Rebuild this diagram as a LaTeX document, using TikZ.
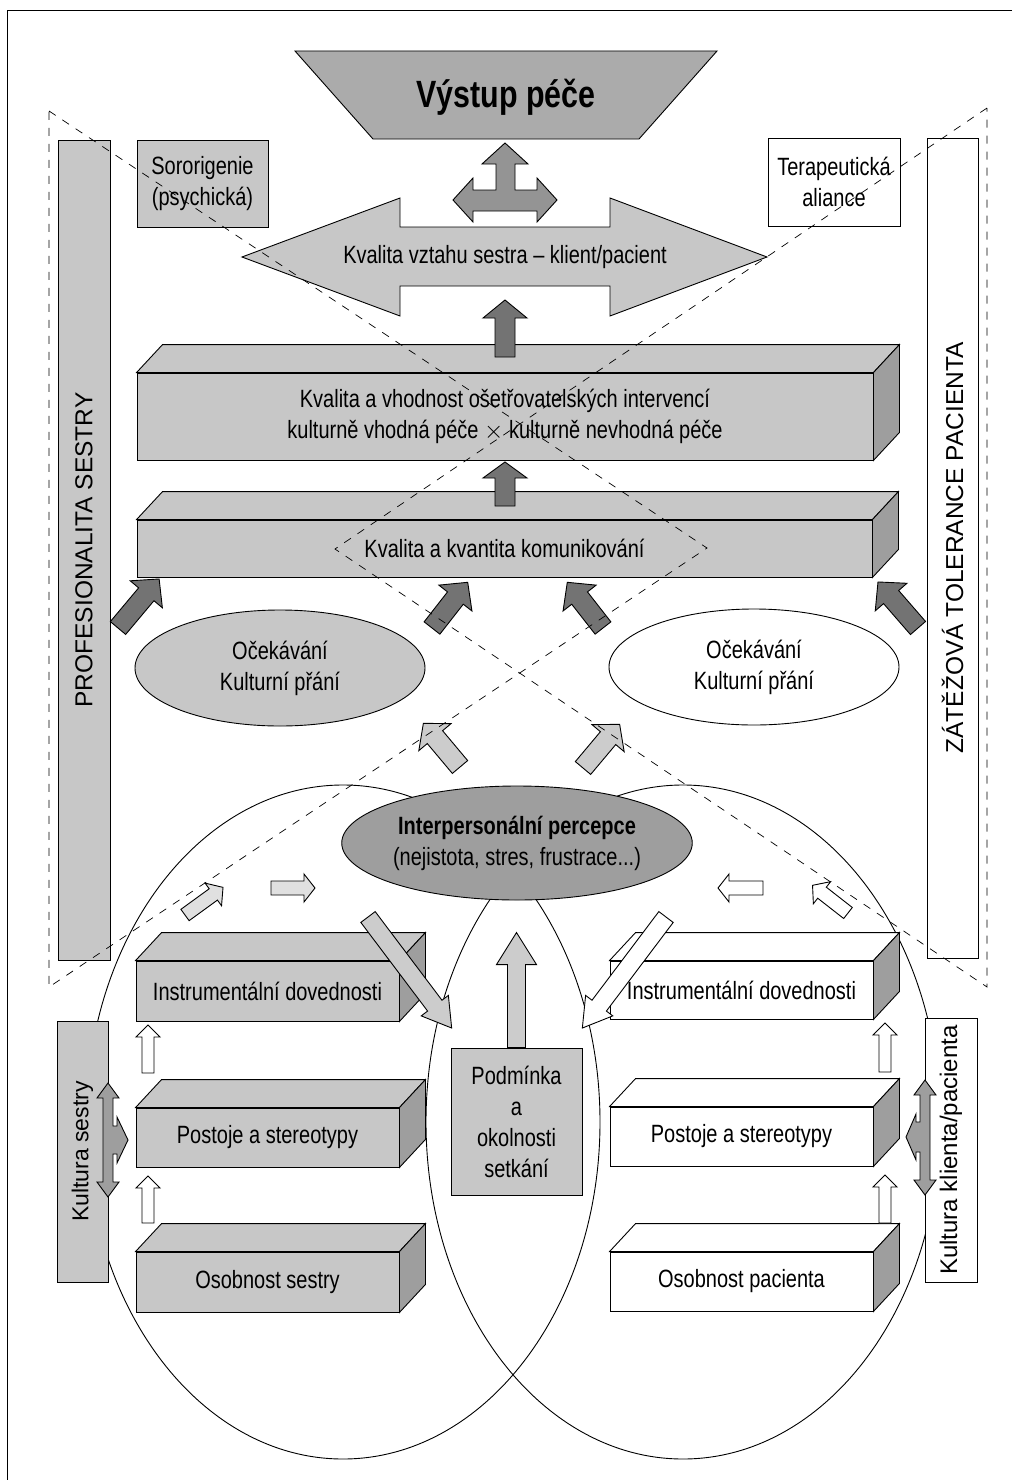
\documentclass[tikz,border=0pt]{standalone}
\usepackage{fontspec}
\setmainfont{Liberation Sans}
\newfontfamily\condfont[FakeStretch=0.8]{Liberation Sans}
\usetikzlibrary{shapes.geometric}

\colorlet{boxc}{black!22}
\colorlet{sidec}{black!38}
\colorlet{darkc}{black!55}
\colorlet{lightc}{black!20}
\colorlet{palec}{black!12}

\tikzset{
  pics/blk/.style n args={5}{code={
    \draw[#5] (0,-#2)--(#1-#4,-#2)--(#1-#4,-#3)--(#1,0)--(#1-#4,#3)--(#1-#4,#2)--(0,#2)--cycle;}},
  lbl/.style={font=\condfont\fontsize{25}{31}\selectfont, align=center},
  bar/.style={draw, rotate=90, inner sep=0, font=\fontsize{24.5}{28}\selectfont},
  dashline/.style={dash pattern=on 8pt off 8pt, line width=0.7pt}
}

\newcommand\cuboid[6]{%
  \node[draw, fill=#5, minimum width=#3, minimum height=#4, inner sep=0, lbl] (#1) at (#2) {#6};
  \draw[fill=#5] (#1.north west) -- ++(26,-28) -- ([shift={(26,-28)}]#1.north east) -- (#1.north east) -- cycle;
  \draw[fill=sidec] (#1.north east) -- ++(26,-28) -- ([shift={(26,-28)}]#1.south east) -- (#1.south east) -- cycle;
}

\begin{document}
\begin{tikzpicture}[x=1pt, y=-1pt, line width=0.9pt]
\useasboundingbox (0,0) rectangle (1016,1480);
\draw (1012,10) -- (7,10) -- (7,1480);

\draw (343,1122) ellipse [x radius=257pt, y radius=337pt];
\draw (683,1122) ellipse [x radius=257pt, y radius=337pt];

\draw[fill=black!33] (295,51) -- (717,51) -- (639,139) -- (373,139) -- cycle;
\node[font=\condfont\bfseries\fontsize{38}{40}\selectfont] (vystup) at (506,97) {Výstup péče};

\node[bar, fill=boxc, minimum width=820pt, minimum height=52pt] (profes) at (84,550) {PROFESIONALITA SESTRY};
\node[bar, fill=white, minimum width=820pt, minimum height=51pt] (zatez) at (952.5,548) {ZÁTĚŽOVÁ TOLERANCE PACIENTA};
\node[draw, fill=boxc, minimum width=131pt, minimum height=87pt, lbl] (sorori) at (202.5,183.5) {Sororigenie\\(psychická)};
\node[draw, fill=white, minimum width=132pt, minimum height=88pt, lbl] (terap) at (834,182) {Terapeutická\\aliance};

\draw[fill=black!42] (505,143) -- (528,164) -- (515,164) -- (515,190) -- (537,190) -- (537,178) -- (557,200)
  -- (537,222) -- (537,211) -- (473,211) -- (473,222) -- (453,200) -- (473,178) -- (473,190)
  -- (496,190) -- (496,164) -- (482,164) -- cycle;

\draw[fill=boxc] (242,257) -- (400,198) -- (400,227) -- (610,227) -- (610,198) -- (767,257)
  -- (610,316) -- (610,286) -- (400,286) -- (400,316) -- cycle;
\node[lbl] (vztah) at (505,257) {Kvalita vztahu sestra – klient/pacient};

\cuboid{kvalita}{505,416.5}{736pt}{87pt}{boxc}{Kvalita a vhodnost ošetřovatelských intervencí\\kulturně vhodná péče $\times$ kulturně nevhodná péče}
\cuboid{komun}{504.5,548.5}{735pt}{57pt}{boxc}{Kvalita a kvantita komunikování}
\pic[rotate=90] at (505,357) {blk={57}{10}{22}{18}{fill=darkc}};
\pic[rotate=90] at (505,506) {blk={44}{10}{22}{16}{fill=darkc}};

\pic[rotate=50] at (118,628) {blk={64}{10}{21}{20}{fill=darkc}};
\pic[rotate=52] at (432,628) {blk={58}{10}{21}{20}{fill=darkc}};
\pic[rotate=128] at (603,628) {blk={58}{10}{21}{20}{fill=darkc}};
\pic[rotate=131] at (918,628) {blk={61}{10}{21}{20}{fill=darkc}};

\node[draw, ellipse, fill=boxc, minimum width=290pt, minimum height=116pt, inner sep=0, lbl] (ocekS) at (280,668) {Očekávání\\Kulturní přání};
\node[draw, ellipse, fill=white, minimum width=290pt, minimum height=116pt, inner sep=0, lbl] (ocekP) at (754,667) {Očekávání\\Kulturní přání};

\pic[rotate=130] at (460,767) {blk={57}{10}{21}{18}{fill=lightc}};
\pic[rotate=50] at (583,768) {blk={57}{10}{21}{18}{fill=lightc}};

\node[draw, ellipse, fill=black!38, minimum width=290pt, minimum height=114pt, inner sep=0, lbl] (percep) at (517,843) {\textbf{Interpersonální percepce}\\(nejistota, stres, frustrace...)};

\pic[rotate=36] at (185,915) {blk={47}{7}{14}{12}{fill=palec}};
\pic at (271,888) {blk={44}{7}{14}{11}{fill=palec}};
\pic[rotate=180] at (763,888) {blk={45}{7}{14}{11}{fill=white}};
\pic[rotate=142] at (848,913) {blk={45}{7}{14}{12}{fill=white}};

\cuboid{instrS}{267.5,991}{263pt}{60pt}{boxc}{Instrumentální dovednosti}
\cuboid{postS}{267.5,1137.5}{263pt}{59pt}{boxc}{Postoje a stereotypy}
\cuboid{osobS}{267.5,1282}{263pt}{60pt}{boxc}{Osobnost sestry}
\cuboid{instrP}{741.5,990}{263pt}{58pt}{white}{Instrumentální dovednosti}
\cuboid{postP}{741.5,1136.5}{263pt}{59pt}{white}{Postoje a stereotypy}
\cuboid{osobP}{741.5,1281.5}{263pt}{59pt}{white}{Osobnost pacienta}

\pic[rotate=90] at (148,1073) {blk={48}{6}{12}{12}{fill=white}};
\pic[rotate=90] at (148,1223) {blk={47}{6}{12}{12}{fill=white}};
\pic[rotate=90] at (885,1072) {blk={49}{6}{12}{12}{fill=white}};
\pic[rotate=90] at (885,1223) {blk={48}{6}{12}{12}{fill=white}};

\pic[rotate=-53] at (368,917) {blk={139}{9}{17}{28}{fill=lightc}};
\pic[rotate=-127] at (666,917) {blk={139}{9}{17}{28}{fill=white}};

\node[draw, fill=boxc, minimum width=131pt, minimum height=147pt, inner sep=0, lbl] (podm) at (516.5,1121.5) {Podmínka\\a\\okolnosti\\setkání};
\pic[rotate=90] at (podm.north) {blk={115}{9}{20}{32}{fill=lightc}};

\node[bar, fill=boxc, minimum width=261pt, minimum height=51pt, font=\fontsize{23}{26}\selectfont] (kultS) at (82.5,1151.5) {Kultura sestry};
\node[bar, fill=white, minimum width=264pt, minimum height=52pt, font=\fontsize{24}{26}\selectfont] (kultP) at (951,1150) {Kultura klienta/pacienta};

\draw[fill=sidec] (108,1083) -- (119,1098) -- (113,1098) -- (113,1126) -- (117,1126) -- (117,1117) -- (128,1140)
  -- (117,1163) -- (117,1154) -- (113,1154) -- (113,1182) -- (119,1182) -- (108,1197) -- (97,1182)
  -- (103,1182) -- (103,1098) -- (97,1098) -- cycle;
\draw[fill=sidec] (925,1080) -- (936,1095) -- (930,1095) -- (930,1180) -- (936,1180) -- (925,1195) -- (914,1180)
  -- (920,1180) -- (920,1152) -- (916,1152) -- (916,1160) -- (906,1137) -- (916,1114) -- (916,1122)
  -- (920,1122) -- (920,1095) -- (914,1095) -- cycle;

\draw[dashline] (49,111) -- (707,548) -- (49,987) -- cycle;
\draw[dashline] (987,108) -- (335,549) -- (987,987) -- cycle;
\end{tikzpicture}
\end{document}
